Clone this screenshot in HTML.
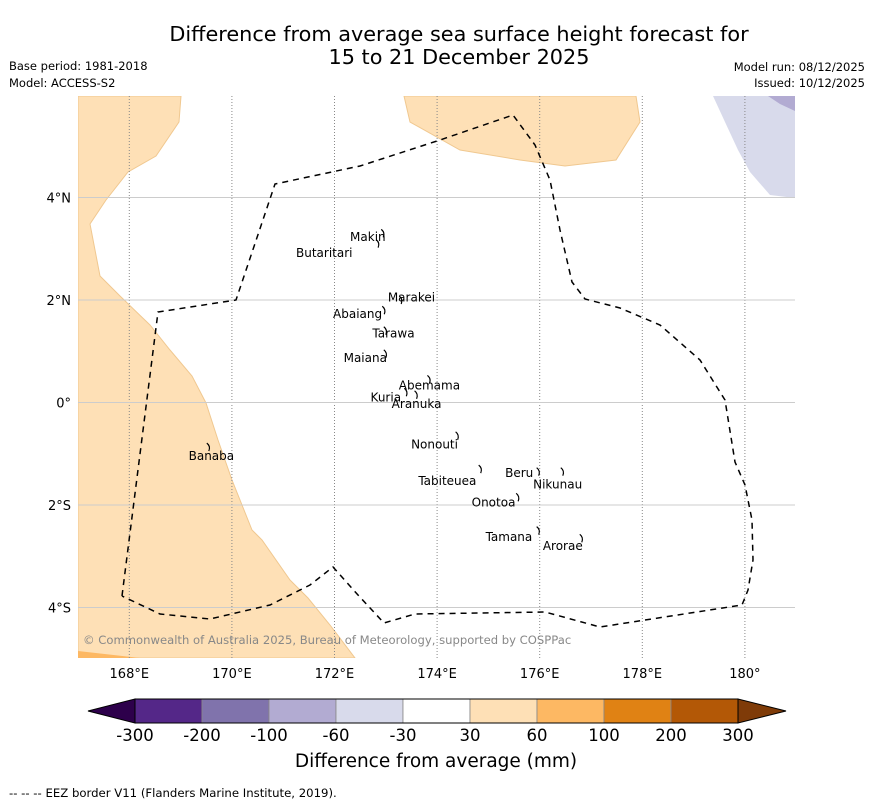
<!DOCTYPE html>
<html><head><meta charset="utf-8"><style>
body{margin:0;background:#fff;}
svg{display:block;font-family:"DejaVu Sans","Liberation Sans",sans-serif;}
</style></head><body>
<svg id="chart" width="873" height="804" viewBox="0 0 873 804">
<text x="459" y="41" text-anchor="middle" font-size="20.8">Difference from average sea surface height forecast for</text>
<text x="459" y="64" text-anchor="middle" font-size="20.8">15 to 21 December 2025</text>
<text x="9" y="70" font-size="11.5">Base period: 1981-2018</text>
<text x="9" y="87" font-size="11.5">Model: ACCESS-S2</text>
<text x="865" y="71" font-size="11.5" text-anchor="end">Model run: 08/12/2025</text>
<text x="865" y="87" font-size="11.5" text-anchor="end">Issued: 10/12/2025</text>
<defs><clipPath id="mapclip"><rect x="78" y="96" width="717" height="562"/></clipPath></defs>
<g id="map" clip-path="url(#mapclip)">
<polygon fill="#fee0b6" stroke="#f0c890" stroke-width="1" points="78,96 181,96 179,122 156,156 128,172 106,200 90,224 100,276 120,296 150,325 170,350 192,376 206,403 218,440 232,480 252,530 262,540 290,580 308,598 330,625 355,658 78,658"/>
<polygon fill="#fdb863" points="78,651 140,658 78,658"/>
<polygon fill="#fee0b6" stroke="#f0c890" stroke-width="1" points="404,96 636,96 640,122 616,160 565,166 520,160 460,150 410,122"/>
<polygon fill="#d8daeb" points="713,96 795,96 795,198 770,195 750,172 738,150 725,122"/>
<polygon fill="#b2abd2" points="768,96 795,96 795,111 780,104"/>
<g id="grid"></g>
<polyline fill="none" stroke="#000" stroke-width="1.5" stroke-dasharray="6,5" points="122,596 158,312 236,300 275,184 360,166 440,140 513,115 535,145 550,180 560,230 572,282 585,299 620,308 660,325 700,360 725,400 735,462 745,485 752,520 753,560 748,590 742,605 600,627 545,612 415,614 384,623 358,595 333,567 310,585 270,605 210,619 160,614 122,596"/>
<g id="islands" fill="none" stroke="#000" stroke-width="1.2"></g>
<text x="83" y="644" font-size="11.6" fill="#888">© Commonwealth of Australia 2025, Bureau of Meteorology, supported by COSPPac</text>
</g>
<g id="axes" font-size="13"></g>
<g id="colorbar"></g>
<text x="436" y="767" text-anchor="middle" font-size="18.5">Difference from average (mm)</text>
<text x="9" y="797" font-size="11.7">--  --  -- EEZ border V11 (Flanders Marine Institute, 2019).</text>
</svg>
<script>
const lonTicks=[168,170,172,174,176,178,180];
const lonLabels=["168°E","170°E","172°E","174°E","176°E","178°E","180°"];
const latTicks=[4,2,0,-2,-4];
const latLabels=["4°N","2°N","0°","2°S","4°S"];
const islandNames=["Makin","Butaritari","Marakei","Abaiang","Tarawa","Maiana","Abemama","Kuria","Aranuka","Nonouti","Tabiteuea","Beru","Nikunau","Onotoa","Tamana","Arorae","Banaba"];
const islandLon=[172.95,172.85,173.3,172.97,173.0,173.0,173.85,173.4,173.6,174.4,174.85,175.98,176.45,175.58,175.98,176.82,169.55];
const islandLat=[3.3,3.1,2.0,1.8,1.4,0.95,0.45,0.2,0.15,-0.65,-1.3,-1.35,-1.35,-1.85,-2.5,-2.65,-0.87];
const labelLon=[172.65,171.8,173.5,172.45,173.15,172.6,173.85,173.0,173.6,173.95,174.2,175.6,176.35,175.1,175.4,176.45,169.6];
const labelLat=[3.23,2.92,2.05,1.73,1.35,0.87,0.33,0.1,-0.03,-0.82,-1.53,-1.38,-1.6,-1.95,-2.62,-2.8,-1.04];
const cbBounds=["-300","-200","-100","-60","-30","30","60","100","200","300"];
const cbColors=["#542788","#8073ac","#b2abd2","#d8daeb","#ffffff","#fee0b6","#fdb863","#e08214","#b35806"];
const NS='http://www.w3.org/2000/svg';
const x=lon=>78+(lon-167)*51.3;
const y=lat=>402.5-lat*51.25;
function mk(tag,attrs,parent){const e=document.createElementNS(NS,tag);for(const k in attrs)e.setAttribute(k,attrs[k]);parent.appendChild(e);return e;}
const grid=document.getElementById('grid'),axes=document.getElementById('axes');
lonTicks.forEach((v,i)=>{
 const l=mk('line',{x1:x(v),x2:x(v),y1:96,y2:658,stroke:'#888','stroke-width':1,'stroke-dasharray':'1,2'},grid);
 
 
 const t=mk('text',{x:x(v),y:678,'text-anchor':'middle'},axes);t.textContent=lonLabels[i];
 
 
});
latTicks.forEach((v,i)=>{
 const l=mk('line',{x1:78,x2:795,y1:y(v),y2:y(v),stroke:'#ccc','stroke-width':1},grid);
 
 
 const t=mk('text',{x:71,y:y(v)+5,'text-anchor':'end'},axes);t.textContent=latLabels[i];
 
 
});
const isl=document.getElementById('islands');
islandNames.forEach((n,i)=>{
 const px=x(islandLon[i]),py=y(islandLat[i]);
 const p=mk('path',{d:`M${px-2},${py-4} q4,3 2,8`},isl);
 
 
 const t=mk('text',{x:x(labelLon[i]),y:y(labelLat[i])+4,'text-anchor':'middle','font-size':12,fill:'#000',stroke:'none'},isl);t.textContent=n;
 
 
});
const cb=document.getElementById('colorbar');
const cx0=135,cx1=738,cy0=699,cy1=723,seg=(cx1-cx0)/cbColors.length;
const lt=mk('polygon',{points:`${cx0},${cy0} ${cx0},${cy1} 88,${(cy0+cy1)/2}`,fill:'#2d004b',stroke:'#000','stroke-width':1},cb);


const rt=mk('polygon',{points:`${cx1},${cy0} ${cx1},${cy1} 786,${(cy0+cy1)/2}`,fill:'#7f3b08',stroke:'#000','stroke-width':1},cb);


cbColors.forEach((c,i)=>{
 const r=mk('rect',{x:cx0+i*seg,y:cy0,width:seg,height:cy1-cy0,fill:c,stroke:'#888','stroke-width':0.8},cb);
 
 
});
mk('rect',{x:cx0,y:cy0,width:cx1-cx0,height:cy1-cy0,fill:'none',stroke:'#000','stroke-width':1},cb);
cbBounds.forEach((b,i)=>{
 const t=mk('text',{x:cx0+i*seg,y:741,'text-anchor':'middle','font-size':16.5},cb);t.textContent=b;
 
 
});
</script>
</body></html>
